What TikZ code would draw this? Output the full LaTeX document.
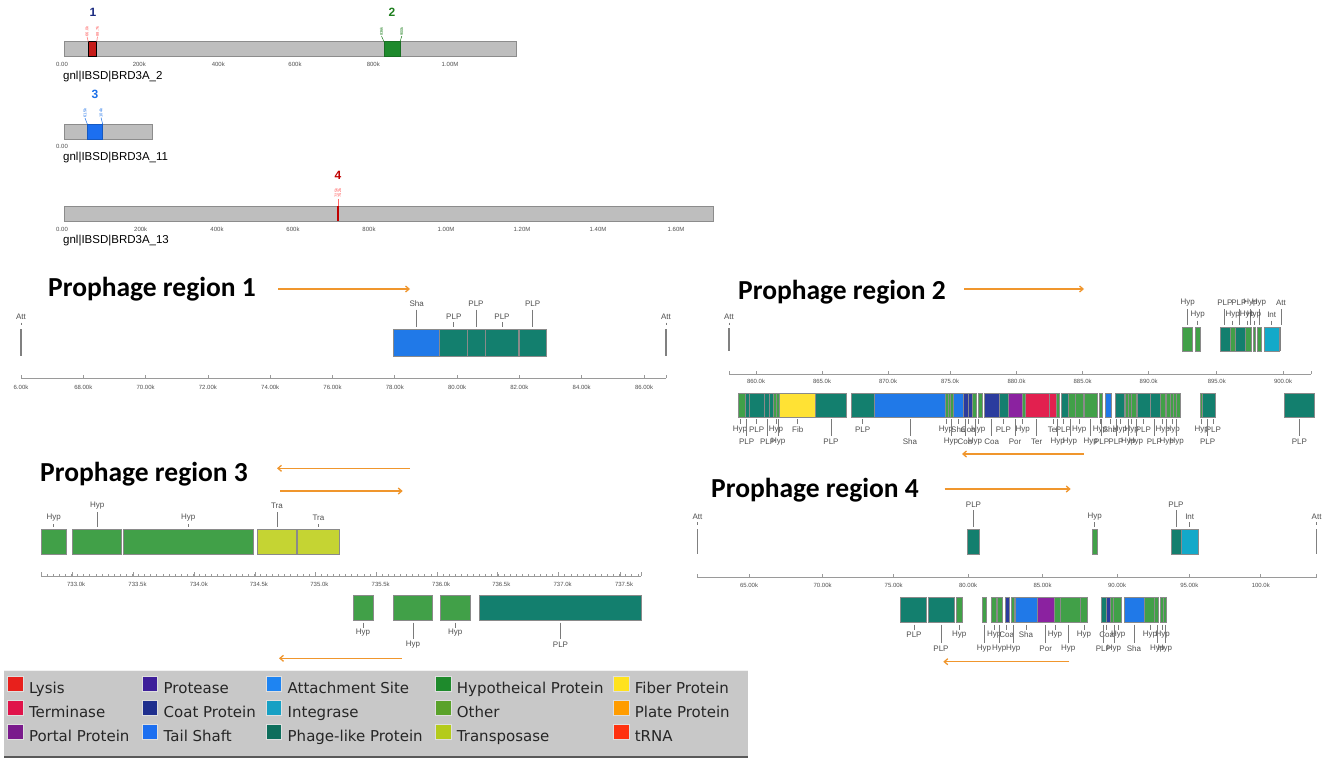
\documentclass[tikz,border=0pt]{standalone}
\usepackage{fontspec}
\setmainfont{Liberation Sans}
\newfontfamily\titlefont{Carlito}
\newfontfamily\legfont{DejaVu Sans}
\usetikzlibrary{arrows.meta}
% legend colours
\definecolor{cLysis}{HTML}{E8201C}
\definecolor{cTerm}{HTML}{E0134A}
\definecolor{cPortal}{HTML}{7A1A8C}
\definecolor{cProtease}{HTML}{3E1F9A}
\definecolor{cCoat}{HTML}{1F2F8E}
\definecolor{cTail}{HTML}{1C6FF0}
\definecolor{cAtt}{HTML}{1E84F2}
\definecolor{cInt}{HTML}{16A0C4}
\definecolor{cPLP}{HTML}{0E6E5C}
\definecolor{cHyp}{HTML}{1E8A2C}
\definecolor{cOther}{HTML}{5AA22A}
\definecolor{cTrans}{HTML}{B4CB1C}
\definecolor{cFiber}{HTML}{FFE21E}
\definecolor{cPlate}{HTML}{FF9C00}
\definecolor{ctRNA}{HTML}{FF3210}
% map colours
\definecolor{gGreen}{HTML}{41A048}
\definecolor{gTeal}{HTML}{137F6E}
\definecolor{gBlue}{HTML}{2079E8}
\definecolor{gYellow}{HTML}{FFE234}
\definecolor{gCyan}{HTML}{13A9C9}
\definecolor{gNavy}{HTML}{2B3C9E}
\definecolor{gPurple}{HTML}{8B22A0}
\definecolor{gRed}{HTML}{E2204F}
\definecolor{gYG}{HTML}{C5D433}
\definecolor{gbord}{HTML}{8A8A8A}
\definecolor{labc}{HTML}{505050}
\definecolor{lnc}{HTML}{7A7A7A}
\definecolor{axc}{HTML}{9A9A9A}
\definecolor{orng}{HTML}{F0962D}
\definecolor{barg}{HTML}{BEBEBE}
\definecolor{barb}{HTML}{8C8C8C}
\definecolor{attc}{HTML}{808080}
\definecolor{leggray}{HTML}{C8C8C8}
\definecolor{n1}{HTML}{1A2A80}
\definecolor{n2}{HTML}{1E7F1E}
\definecolor{n3}{HTML}{1A6FE8}
\definecolor{n4}{HTML}{C00000}
\tikzset{
  gene/.style={draw=gbord,line width=0.7pt},
  glab/.style={font=\fontsize{8}{8}\selectfont,text=labc,inner sep=0pt},
  gln/.style={draw=lnc,line width=0.7pt},
  tlab/.style={font=\fontsize{6}{6}\selectfont,text=labc,inner sep=0pt},
  axl/.style={draw=axc,line width=0.8pt},
  oarr/.style={draw=orng,line width=1.3pt,-{Straight Barb[length=3.5pt,width=6pt]}},
  ttl/.style={font=\titlefont\bfseries\fontsize{27.5}{27.5}\selectfont,inner sep=0pt,anchor=base west},
  cbar/.style={fill=barg,draw=barb,line width=0.8pt},
  attl/.style={draw=attc,line width=1.3pt},
  rotl/.style={font=\fontsize{4}{4}\selectfont,rotate=90,inner sep=0pt},
  num/.style={font=\bfseries\fontsize{12}{12}\selectfont,inner sep=0pt},
  cname/.style={font=\fontsize{11.5}{11.5}\selectfont,anchor=west,inner sep=0pt},
  legtxt/.style={font=\legfont\fontsize{15}{15}\selectfont,anchor=base west,inner sep=0pt,text=black!85},
  legsw/.style={draw=white!75!gray,line width=0.5pt}
}
\begin{document}
\begin{tikzpicture}[x=1pt,y=-1pt]
\useasboundingbox (0,0) rectangle (1325,763);
\fill[white] (0,0) rectangle (1325,763);

% ---------------- contig overview ----------------
% contig 2
\filldraw[cbar] (64,41.7) rectangle (516,56.7);
\filldraw[fill=cLysis!85!black,draw=black,line width=1pt] (88.3,41.7) rectangle (96.7,56.7);
\node[rotl,text=red!70] (l1a) at (87,31.5) {66.0k};
\node[rotl,text=red!70] (l1b) at (97.5,31.5) {88.7k};
\draw[red!60,line width=0.5pt] (l1a.west) -- (88.3,41.7);
\draw[red!60,line width=0.5pt] (l1b.west) -- (96.7,41.7);
\node[num,text=n1] (m1) at (93,12) {1};
\filldraw[fill=cHyp,draw=cHyp!80!black,line width=0.6pt] (384,41.7) rectangle (400,56.7);
\node[rotl,text=n2] (l2a) at (381.5,31.5) {836k};
\node[rotl,text=n2] (l2b) at (401.8,31.5) {900k};
\draw[n2,line width=0.5pt] (l2a.west) -- (384,41.7);
\draw[n2,line width=0.5pt] (l2b.west) -- (400,41.7);
\node[num,text=n2] (m2) at (392,12) {2};
\foreach \x/\tx in {62/0.00,139.3/200k,218.3/400k,295/600k,373.3/800k,450/1.00M}
  \node[tlab] at (\x,64.5) {\tx};
\node[cname] (c2) at (63,77) {gnl|IBSD|BRD3A\_2};
% contig 11
\filldraw[cbar] (64,124) rectangle (152,139.3);
\filldraw[fill=cTail,draw=cTail!80!black,line width=0.6pt] (87.3,124) rectangle (102.7,139.3);
\node[rotl,text=n3] (l3a) at (85,113) {61.5k};
\node[rotl,text=n3] (l3b) at (101,113) {104k};
\draw[n3,line width=0.5pt] (l3a.west) -- (87.3,124);
\draw[n3,line width=0.5pt] (l3b.west) -- (102.7,124);
\node[num,text=n3] (m3) at (95,94) {3};
\node[tlab] at (62,146.5) {0.00};
\node[cname] (c11) at (63,157.5) {gnl|IBSD|BRD3A\_11};
% contig 13
\filldraw[cbar] (64,206) rectangle (713,221);
\draw[n4,line width=2pt] (338,206) -- (338,221);
\node[rotl,text=red!70] (l4a) at (336.3,193) {725k};
\node[rotl,text=red!70] (l4b) at (339.7,193) {752k};
\draw[red!60,line width=0.5pt] (338,199) -- (338,206);
\node[num,text=n4] (m4) at (338,175) {4};
\foreach \x/\tx in {62/0.00,140.7/200k,217/400k,293/600k,369/800k,446/1.00M,522/1.20M,598/1.40M,676/1.60M}
  \node[tlab] at (\x,229.5) {\tx};
\node[cname] (c13) at (63,240.5) {gnl|IBSD|BRD3A\_13};

% ---------------- Prophage region 1 ----------------
\node[ttl] (t1) at (48,296) {Prophage region 1};
\coordinate (a1s) at (278,289); \coordinate (a1e) at (410,289);
\draw[oarr] (a1s) -- (a1e);
\foreach \x in {21,666}{\node[glab] at (\x,317) {Att}; \draw[attl] (\x,329) -- (\x,356); \draw[gln] (\x,322.5)--(\x,325);}
\foreach \a/\b/\cc in {393.6/439.4/gBlue,439.4/467.3/gTeal,467.3/485.2/gTeal,485.2/517.9/gTeal,519.2/546.2/gTeal}
  \filldraw[gene,fill=\cc] (\a,329) rectangle (\b,356);
\foreach \x/\tx in {416.7/Sha,476/PLP,532.7/PLP}{\node[glab] at (\x,304){\tx}; \draw[gln] (\x,309.5)--(\x,327);}
\foreach \x/\tx in {453.8/PLP,502/PLP}{\node[glab] at (\x,317){\tx}; \draw[gln] (\x,322)--(\x,327);}
\draw[axl] (21,378) -- (666,378);
\foreach \x/\tx in {21/6.00k,83.3/68.00k,145.6/70.00k,207.9/72.00k,270.2/74.00k,332.5/76.00k,394.8/78.00k,457.1/80.00k,519.4/82.00k,581.7/84.00k,644/86.00k}
  {\draw[axl] (\x,378)--(\x,375); \node[tlab] at (\x,387){\tx};}
\draw[axl] (666,378)--(666,375);

% ---------------- Prophage region 2 ----------------
\node[ttl] (t2) at (738,299.5) {Prophage region 2};
\coordinate (a2s) at (964,289); \coordinate (a2e) at (1084,289);
\draw[oarr] (a2s) -- (a2e);
\node[glab] at (729,317) {Att}; \draw[gln] (729,322.5)--(729,325); \draw[attl] (729,328) -- (729,351);
\foreach \a/\b/\cc in {1182.8/1192/gGreen,1195.6/1200/gGreen,1220.8/1230/gTeal,1230/1235.6/gGreen,1235.6/1244.9/gTeal,1245.7/1250.9/gGreen,1252.9/1255.7/gGreen,1256.9/1260.9/gGreen,1264/1279.3/gCyan}
  \filldraw[gene,fill=\cc] (\a,327) rectangle (\b,351);
\draw[attl] (1280.8,327) -- (1280.8,351);
\foreach \x/\tx in {1187.6/Hyp,1224.8/PLP,1238.9/PLP,1250.5/Hyp,1258.9/Hyp,1281/Att}{\node[glab] at (\x,303){\tx}; \draw[gln] (\x,309)--(\x,325);}
\foreach \x/\tx in {1197.6/Hyp,1232.8/Hyp,1246.9/Hyp,1254/Hyp,1271.7/Int}{\node[glab] at (\x,315){\tx}; \draw[gln] (\x,320.5)--(\x,325);}
\draw[axl] (729,374) -- (1311,374);
\foreach \x/\tx in {756/860.0k,822/865.0k,888/870.0k,950/875.0k,1016.5/880.0k,1082.6/885.0k,1148.7/890.0k,1216.8/895.0k,1283/900.0k}
  {\draw[axl] (\x,374)--(\x,371); \node[tlab] at (\x,381){\tx};}
\draw[axl] (729,374)--(729,371); \draw[axl] (1311,374)--(1311,371);
% lower track
\foreach \a/\b/\cc in {738.3/745/gGreen,745/749.3/gTeal,749.3/764.3/gTeal,764.3/769.3/gTeal,769.3/773.3/gTeal,773.3/776/gGreen,776/779.3/gGreen,779.3/815.7/gYellow,815.7/846.7/gTeal,
  851/874/gTeal,874/945.7/gBlue,945.7/948/gGreen,948/950.5/gGreen,950.5/953.3/gGreen,953.3/963.3/gBlue,963.3/968/gNavy,968/972/gNavy,972/976/gGreen,978.3/982.7/gGreen,
  984.3/999.3/gNavy,999.3/1008.3/gTeal,1008.3/1022.7/gPurple,1022.7/1025/gGreen,1025/1049.3/gRed,1049.3/1056/gRed,1056/1059.3/gGreen,
  1061.7/1068.3/gTeal,1068.3/1075/gGreen,1075/1083.3/gGreen,1084/1097.3/gGreen,1099.3/1102/gGreen,1105/1111/gBlue,
  1115/1124/gTeal,1125/1128.3/gGreen,1128.3/1131.7/gGreen,1131.7/1136/gGreen,1137.7/1150/gTeal,1150/1160.7/gTeal,1160.7/1165/gGreen,
  1166.7/1170/gGreen,1170/1173.3/gGreen,1173.3/1176/gGreen,1176/1180/gGreen,1200/1202/gGreen,1202/1215/gTeal,1284.3/1314.3/gTeal}
  \filldraw[gene,fill=\cc] (\a,393) rectangle (\b,417);
\foreach \x/\tx in {740/Hyp,756.7/PLP,776/Hyp,797.7/Fib,862.7/PLP,946/Hyp,958.3/Sha,968.3/Coa,978.3/Hyp,1003.3/PLP,1022.7/Hyp,1053.3/Ter,1063.3/PLP,1079.3/Hyp,1100/Hyp,1110/Sha,1120/Hyp,1131.7/Hyp,1143.3/PLP,1162.7/Hyp,1172.7/Hyp,1201.7/Hyp,1213.3/PLP}
  {\draw[gln] (\x,419)--(\x,424); \node[glab] at (\x,429.5){\tx};}
\foreach \x/\tx in {746.7/PLP,767.7/PLP,778.3/Hyp,831/PLP,910/Sha,951/Hyp,965/Coa,975/Hyp,991.7/Coa,1015/Por,1036.7/Ter,1057.7/Hyp,1070/Hyp,1090.7/Hyp,1101.7/PLP,1116/PLP,1128.3/Hyp,1136/Hyp,1154.3/PLP,1166.7/Hyp,1176.7/Hyp,1207.7/PLP,1299.3/PLP}
  {\draw[gln] (\x,419)--(\x,436); \node[glab] at (\x,441.5){\tx};}
\coordinate (a2bs) at (1083.5,454); \coordinate (a2be) at (962,454);
\draw[oarr] (a2bs) -- (a2be);

% ---------------- Prophage region 3 ----------------
\node[ttl] (t3) at (40,481) {Prophage region 3};
\coordinate (a3s) at (409.5,468.3); \coordinate (a3e) at (277,468.3);
\draw[oarr] (a3s) -- (a3e);
\coordinate (a3bs) at (280,491); \coordinate (a3be) at (402.7,491);
\draw[oarr] (a3bs) -- (a3be);
\foreach \a/\b/\cc in {41/66.4/gGreen,71.9/121.8/gGreen,123.1/253.8/gGreen,257.6/296.1/gYG,297.8/339.7/gYG}
  \filldraw[gene,fill=\cc] (\a,529.3) rectangle (\b,554);
\foreach \x/\tx in {97.3/Hyp,277/Tra}{\node[glab] at (\x,506){\tx}; \draw[gln] (\x,512)--(\x,527);}
\foreach \x/\tx in {53.7/Hyp,188.2/Hyp,318.5/Tra}{\node[glab] at (\x,518){\tx}; \draw[gln] (\x,524)--(\x,527);}
\draw[axl] (41,576) -- (641,576);
\foreach \i in {0,...,98} \draw[axl,line width=0.5pt] (41+\i*6.09,576) -- (41+\i*6.09,573.5);
\foreach \x/\tx in {76.1/733.0k,137.5/733.5k,198.8/734.0k,258.9/734.5k,319.4/735.0k,380.7/735.5k,441.2/736.0k,501.3/736.5k,562.6/737.0k,624/737.5k}
  {\draw[axl] (\x-4,576)--(\x-4,572); \node[tlab] at (\x,584){\tx};}
\draw[axl] (41,576)--(41,572); \draw[axl] (641,576)--(641,572);
\foreach \a/\b/\cc in {353.2/373.1/gGreen,393.4/432.7/gGreen,440.8/470.4/gGreen,479.3/640.9/gTeal}
  \filldraw[gene,fill=\cc] (\a,595.7) rectangle (\b,620);
\foreach \x/\tx in {363/Hyp,455.2/Hyp}{\draw[gln] (\x,622.5)--(\x,627.5); \node[glab] at (\x,633){\tx};}
\foreach \x/\tx in {412.9/Hyp,560.5/PLP}{\draw[gln] (\x,622.5)--(\x,639); \node[glab] at (\x,644.5){\tx};}
\coordinate (a3cs) at (401.9,658.3); \coordinate (a3ce) at (279,658.3);
\draw[oarr] (a3cs) -- (a3ce);

% ---------------- Prophage region 4 ----------------
\node[ttl] (t4) at (711,497) {Prophage region 4};
\coordinate (a4s) at (944.6,489); \coordinate (a4e) at (1070.7,489);
\draw[oarr] (a4s) -- (a4e);
\foreach \x in {697.4,1316.6}{\node[glab] at (\x,516.7) {Att}; \draw[gln] (\x,522)--(\x,524.5); \draw[attl] (\x,529.3) -- (\x,554);}
\foreach \a/\b/\cc in {967.3/979.7/gTeal,1092.2/1097.5/gGreen,1171.1/1181.4/gTeal,1181.4/1198.8/gCyan}
  \filldraw[gene,fill=\cc] (\a,529.3) rectangle (\b,554);
\foreach \x/\tx in {973.5/PLP,1176/PLP}{\node[glab] at (\x,504.3){\tx}; \draw[gln] (\x,510)--(\x,527);}
\foreach \x/\tx in {1094.6/Hyp,1189.7/Int}{\node[glab] at (\x,516.7){\tx}; \draw[gln] (\x,522)--(\x,527);}
\draw[axl] (697.4,577) -- (1316.6,577);
\foreach \x/\tx in {749/65.00k,822.6/70.00k,893.7/75.00k,968.1/80.00k,1042.5/85.00k,1117/90.00k,1189.3/95.00k,1260.8/100.0k}
  {\draw[axl] (\x,577)--(\x,574); \node[tlab] at (\x,585){\tx};}
\draw[axl] (697.4,577)--(697.4,574); \draw[axl] (1316.6,577)--(1316.6,574);
% lower track
\foreach \a/\b/\cc in {900.7/926.7/gTeal,928.3/954/gTeal,956.7/962.3/gGreen,982.7/986/gGreen,991.7/996.7/gGreen,997.7/1002.7/gGreen,1005/1009/gNavy,1011.7/1014/gGreen,
  1015/1037.3/gBlue,1037.3/1054/gPurple,1054/1060/gGreen,1060/1080/gGreen,1080/1087.7/gGreen,1101.7/1106.7/gTeal,1106.7/1110.7/gNavy,1110.7/1113.3/gGreen,1113.3/1121.7/gGreen,
  1124/1144/gBlue,1144/1154/gGreen,1154/1158.3/gGreen,1160/1163/gGreen,1163/1166/gGreen}
  \filldraw[gene,fill=\cc] (\a,597.3) rectangle (\b,622.7);
\foreach \x/\tx in {914/PLP,959.3/Hyp,994.3/Hyp,1006.7/Coa,1026/Sha,1055/Hyp,1084/Hyp,1106.7/Coa,1118.3/Hyp,1150/Hyp,1162.7/Hyp}
  {\draw[gln] (\x,624.5)--(\x,629.5); \node[glab] at (\x,635){\tx};}
\foreach \x/\tx in {941/PLP,984/Hyp,999.3/Hyp,1013.3/Hyp,1045.7/Por,1068.3/Hyp,1103.3/PLP,1114/Hyp,1134/Sha,1157.3/Hyp,1165/Hyp}
  {\draw[gln] (\x,624.5)--(\x,642.5); \node[glab] at (\x,648.5){\tx};}
\coordinate (a4bs) at (1069.3,661.7); \coordinate (a4be) at (943.3,661.7);
\draw[oarr] (a4bs) -- (a4be);

% ---------------- legend ----------------
\fill[leggray] (4,670) rectangle (748,757);
\draw[white!90!gray,line width=0.8pt] (4,670) -- (748,670);
\draw[black!65,line width=1.5pt] (4,757) -- (748,757);
\foreach \sx/\tx/\row/\cc/\lab in {
  7.2/28.8/0/cLysis/Lysis, 7.2/28.8/1/cTerm/Terminase, 7.2/28.8/2/cPortal/Portal Protein,
  141.8/163.5/0/cProtease/Protease, 141.8/163.5/1/cCoat/Coat Protein, 141.8/163.5/2/cTail/Tail Shaft,
  265.9/287.5/0/cAtt/Attachment Site, 265.9/287.5/1/cInt/Integrase, 265.9/287.5/2/cPLP/Phage-like Protein,
  435/456.7/0/cHyp/Hypotheical Protein, 435/456.7/1/cOther/Other, 435/456.7/2/cTrans/Transposase,
  613/634.6/0/cFiber/Fiber Protein, 613/634.6/1/cPlate/Plate Protein, 613/634.6/2/ctRNA/tRNA}
{
  \filldraw[legsw,fill=\cc] (\sx,676.7+\row*24) rectangle (\sx+15.8,691.7+\row*24);
  \node[legtxt] at (\tx,693+\row*24) {\lab};
}
\end{tikzpicture}
\end{document}
